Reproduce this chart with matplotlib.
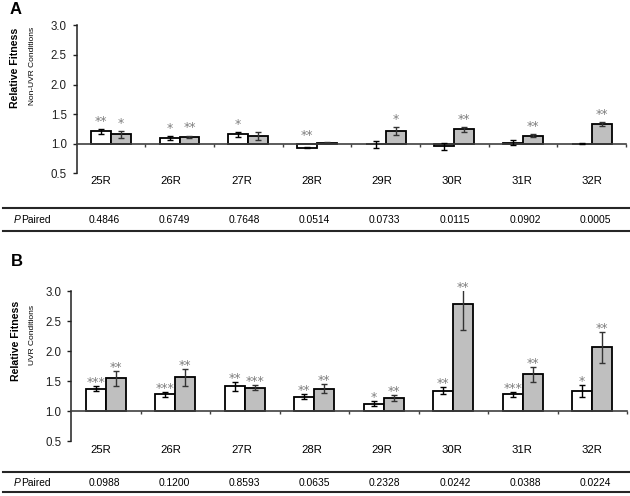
import matplotlib
matplotlib.use('Agg')
import matplotlib.pyplot as plt
import numpy as np
from matplotlib.lines import Line2D
from matplotlib.ticker import FormatStrFormatter

plt.rcParams['font.family'] = ['Liberation Sans', 'DejaVu Sans']

strains = ['25R', '26R', '27R', '28R', '29R', '30R', '31R', '32R']

# panel A - non-UVR conditions
nonuvr_white = [1.21, 1.10, 1.16, 0.93, 0.99, 0.955, 1.02, 1.00]
nonuvr_white_err = [0.04, 0.034, 0.04, 0.011, 0.06, 0.06, 0.04, 0.01]
nonuvr_grey = [1.16, 1.12, 1.13, 1.02, 1.21, 1.24, 1.135, 1.33]
nonuvr_grey_err = [0.06, 0.017, 0.068, 0.01, 0.068, 0.04, 0.03, 0.034]
nonuvr_white_sig = ['**', '*', '*', '**', '', '', '', '']
nonuvr_grey_sig = ['*', '**', '', '', '*', '**', '**', '**']
nonuvr_p = ['0.4846', '0.6749', '0.7648', '0.0514', '0.0733', '0.0115', '0.0902', '0.0005']

# panel B - UVR conditions
uvr_white = [1.37, 1.28, 1.41, 1.24, 1.12, 1.34, 1.28, 1.33]
uvr_white_err = [0.04, 0.04, 0.08, 0.04, 0.04, 0.06, 0.04, 0.10]
uvr_grey = [1.545, 1.56, 1.39, 1.37, 1.21, 2.78, 1.61, 2.06]
uvr_grey_err = [0.12, 0.14, 0.04, 0.075, 0.05, 0.43, 0.12, 0.26]
uvr_white_sig = ['***', '***', '**', '**', '*', '**', '***', '*']
uvr_grey_sig = ['**', '**', '***', '**', '**', '**', '**', '**']
uvr_p = ['0.0988', '0.1200', '0.8593', '0.0635', '0.2328', '0.0242', '0.0388', '0.0224']

W, H = 630, 496
fig = plt.figure(figsize=(W / 100, H / 100), dpi=100)


def fx(px):
    return px / W


def fy(py):
    return 1 - py / H


def draw_panel(ax, white, werr, grey, gerr, wsig, gsig, star_dy):
    x = np.arange(len(strains)) + 0.5
    w = 0.29
    ymax = 3.0
    ax.bar(x - w / 2, np.array(white) - 1, w, bottom=1, color='white',
           edgecolor='black', linewidth=1.3, zorder=2)
    ax.bar(x + w / 2, np.array(grey) - 1, w, bottom=1, color='#bfbfbf',
           edgecolor='black', linewidth=1.3, zorder=2)
    ax.errorbar(x - w / 2, white, yerr=werr, fmt='none', ecolor='black',
                elinewidth=1, capsize=2.2, capthick=1, zorder=3)
    ax.errorbar(x + w / 2, grey, yerr=gerr, fmt='none', ecolor='#333333',
                elinewidth=1, capsize=2.2, capthick=1, zorder=3)
    # significance stars above each bar
    for xs, vals, errs, sigs in [(x - w / 2, white, werr, wsig), (x + w / 2, grey, gerr, gsig)]:
        for xi, v, e, s in zip(xs, vals, errs, sigs):
            if not s:
                continue
            top = min(max(v, 1) + e, ymax)
            ax.annotate(s, (xi, top), xytext=(0, star_dy), textcoords='offset points',
                        ha='center', va='baseline', fontsize=9, family='DejaVu Sans',
                        color='#7f7f7f', annotation_clip=False)
    ax.set_xlim(0, len(strains))
    ax.set_ylim(0.5, ymax)
    for side in ['top', 'right']:
        ax.spines[side].set_visible(False)
    ax.spines['bottom'].set_position(('data', 1.0))
    ax.spines['bottom'].set_color('#404040')
    ax.spines['left'].set_color('#202020')
    ax.spines['bottom'].set_linewidth(1.2)
    ax.spines['left'].set_linewidth(1.1)
    ax.set_xticks(np.arange(1, len(strains) + 1))
    ax.set_xticklabels([])
    ax.tick_params(axis='x', direction='out', length=2.5, width=1, color='#404040')
    ax.set_yticks(np.arange(0.5, 3.01, 0.5))
    ax.yaxis.set_major_formatter(FormatStrFormatter('%.1f'))
    ax.tick_params(axis='y', direction='out', length=3, width=1, pad=4,
                   labelsize=8.3, labelcolor='#202020', color='#202020')


# panel A axes: x 76.5-626 px, y 3.0 at 25.3 px, 0.5 at 173.3 px
axA = fig.add_axes([fx(76.5), fy(173.3), fx(626 - 76.5), (173.3 - 25.3) / H])
draw_panel(axA, nonuvr_white, nonuvr_white_err, nonuvr_grey, nonuvr_grey_err,
           nonuvr_white_sig, nonuvr_grey_sig, 3.0)

# panel B axes: x 71-627 px, y 3.0 at 291 px, 0.5 at 441 px
axB = fig.add_axes([fx(71), fy(441), fx(627 - 71), (441 - 291) / H])
draw_panel(axB, uvr_white, uvr_white_err, uvr_grey, uvr_grey_err,
           uvr_white_sig, uvr_grey_sig, 0)

# panel letters and y labels
fig.text(fx(16), fy(10), 'A', fontsize=12, fontweight='bold', ha='center', va='center')
fig.text(fx(17), fy(262), 'B', fontsize=12, fontweight='bold', ha='center', va='center')
fig.text(fx(15.5), fy(68), 'Relative Fitness', rotation=90, fontsize=7.6, fontweight='bold',
         ha='center', va='center')
fig.text(fx(32), fy(66), 'Non-UVR Conditions', rotation=90, fontsize=6,
         ha='center', va='center')
fig.text(fx(16.5), fy(341), 'Relative Fitness', rotation=90, fontsize=7.6, fontweight='bold',
         ha='center', va='center')
fig.text(fx(32), fy(335), 'UVR Conditions', rotation=90, fontsize=6,
         ha='center', va='center')


# strain labels and P paired table rows
def table_rows(label_y, line_top, text_y, line_bot, pvals):
    for i, s in enumerate(strains):
        fig.text(fx(101 + 70.2 * i), fy(label_y), s, fontsize=8.2, ha='center', va='center')
        fig.text(fx(104 + 70.2 * i), fy(text_y), pvals[i], fontsize=7.4, ha='center', va='center')
    fig.text(fx(14), fy(text_y), 'P', fontsize=7.4, style='italic', ha='left', va='center')
    fig.text(fx(21.5), fy(text_y), 'Paired', fontsize=7.4, ha='left', va='center')
    for ly in (line_top, line_bot):
        fig.add_artist(Line2D([fx(3), fx(630)], [fy(ly), fy(ly)], color='#262626',
                              linewidth=1.5, transform=fig.transFigure))


table_rows(181, 208, 220, 231, nonuvr_p)
table_rows(450, 472, 483, 492, uvr_p)

fig.savefig('out.png', dpi=100)
